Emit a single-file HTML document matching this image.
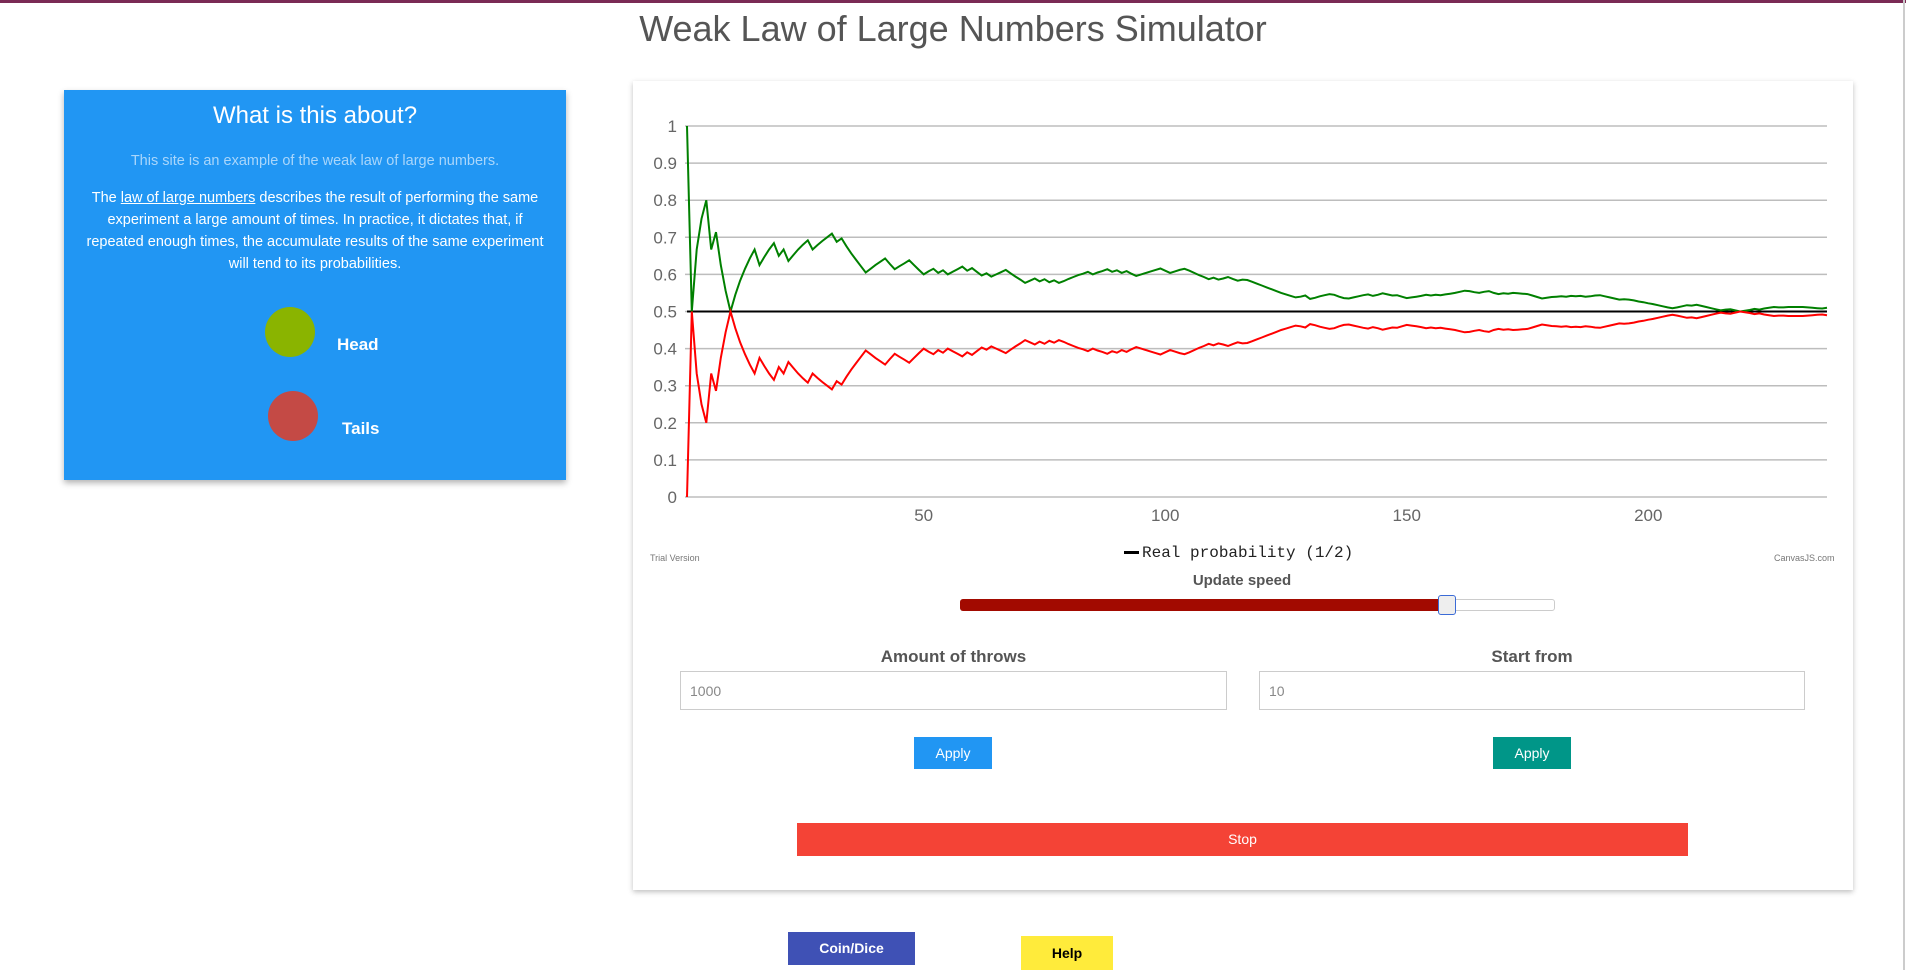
<!DOCTYPE html>
<html><head><meta charset="utf-8">
<style>
body{margin:0;width:1906px;height:970px;overflow:hidden;background:#fff;font-family:"Liberation Sans",sans-serif;position:relative}
.abs{position:absolute}
.topbar{left:0;top:0;width:1906px;height:3px;background:#7a2a55}
.title{left:0;width:1906px;top:8px;text-align:center;font-size:36px;color:#555}
.panel{left:64px;top:90px;width:502px;height:390px;background:#2196f3;box-shadow:0 3px 6px rgba(0,0,0,.3);color:#fff;text-align:center}
.card{left:633px;top:81px;width:1220px;height:809px;background:#fff;box-shadow:0 2px 5px rgba(0,0,0,.25)}
.btn{color:#fff;text-align:center;font-size:14px}
.inp{border:1px solid #ccc;background:#fff;color:#888;font-size:14px;box-sizing:border-box;padding-left:9px;line-height:38px}
.lbl{font-weight:bold;font-size:17px;color:#555;text-align:center}
</style></head><body>
<div class="abs topbar"></div>
<div class="abs title">Weak Law of Large Numbers Simulator</div>

<div class="abs panel">
  <div class="abs" style="left:0;width:502px;top:12px;font-size:24px">What is this about?</div>
  <div class="abs" style="left:0;width:502px;top:63px;font-size:14.5px;color:#a9d6fb">This site is an example of the weak law of large numbers.</div>
  <div class="abs" style="left:18px;width:466px;top:97px;font-size:14.5px;line-height:22px">The <u>law of large numbers</u> describes the result of performing the same experiment a large amount of times. In practice, it dictates that, if repeated enough times, the accumulate results of the same experiment will tend to its probabilities.</div>
  <div class="abs" style="left:201px;top:217px;width:50px;height:50px;border-radius:50%;background:#8ab400"></div>
  <div class="abs" style="left:273px;top:245px;font-size:17px;font-weight:bold">Head</div>
  <div class="abs" style="left:204px;top:301px;width:50px;height:50px;border-radius:50%;background:#c44a45"></div>
  <div class="abs" style="left:278px;top:329px;font-size:17px;font-weight:bold">Tails</div>
</div>

<div class="abs card"></div>
<svg class="abs" style="left:0;top:0" width="1906" height="970" id="chart"></svg>

<div class="abs" style="left:650px;top:553px;font-size:9px;color:#777">Trial Version</div>
<div class="abs" style="left:1774px;top:553px;font-size:9px;color:#777">CanvasJS.com</div>
<div class="abs" style="left:1124px;top:544px;font-family:'Liberation Mono',monospace;font-size:16px;color:#222;white-space:nowrap"><span style="display:inline-block;width:15px;height:3px;background:#000;vertical-align:middle;margin-right:3px"></span>Real probability (1/2)</div>

<div class="abs" style="left:0;width:2484px;top:572px;text-align:center;font-size:16px;font-weight:bold;color:#555;font-family:'DejaVu Sans',sans-serif;transform:scale(.5,1);transform-origin:0 0;display:none"></div>
<div class="abs" style="left:1142px;width:200px;top:572px;text-align:center;font-size:15px;font-weight:bold;color:#555">Update speed</div>
<div class="abs" style="left:960px;top:599px;width:593px;height:10px;border:1px solid #ccc;border-radius:3px;background:#fff"></div>
<div class="abs" style="left:960px;top:599px;width:488px;height:12px;border-radius:3px;background:#a20a00"></div>
<div class="abs" style="left:1438px;top:595px;width:16px;height:18px;border:1px solid #3b6bd6;border-radius:3px;background:#eee"></div>

<div class="abs lbl" style="left:680px;width:547px;top:647px">Amount of throws</div>
<div class="abs inp" style="left:680px;top:671px;width:547px;height:39px">1000</div>
<div class="abs lbl" style="left:1259px;width:546px;top:647px">Start from</div>
<div class="abs inp" style="left:1259px;top:671px;width:546px;height:39px">10</div>
<div class="abs btn" style="left:914px;top:737px;width:78px;height:32px;line-height:32px;background:#2196f3">Apply</div>
<div class="abs btn" style="left:1493px;top:737px;width:78px;height:32px;line-height:32px;background:#009688">Apply</div>
<div class="abs btn" style="left:797px;top:823px;width:891px;height:33px;line-height:33px;background:#f44336">Stop</div>
<div class="abs btn" style="left:788px;top:932px;width:127px;height:33px;line-height:33px;background:#3f51b5;font-weight:bold">Coin/Dice</div>
<div class="abs btn" style="left:1021px;top:936px;width:92px;height:34px;line-height:34px;background:#ffeb3b;color:#000;font-weight:bold">Help</div>
<div class="abs" style="left:1903px;top:0;width:2px;height:970px;background:#ccc"></div>

<script>
const headValues=[1,.5,.667,.75,.8,.667,.714,.625,.556,.5,
.545,.583,.615,.643,.667,.625,.647,.667,.684,.65,
.667,.636,.652,.667,.68,.692,.667,.679,.69,.7,
.71,.688,.697,.676,.657,.639,.622,.605,.615,.625,
.634,.643,.628,.614,.622,.63,.638,.625,.612,.6,
.608,.615,.604,.611,.6,.607,.614,.621,.61,.617,
.607,.597,.603,.594,.6,.606,.612,.603,.594,.586,
.577,.583,.589,.581,.587,.579,.584,.577,.582,.588,
.593,.598,.602,.607,.6,.605,.609,.614,.607,.611,
.604,.609,.602,.596,.6,.604,.608,.612,.616,.61,
.604,.608,.612,.615,.61,.604,.598,.593,.587,.591,
.586,.589,.593,.588,.583,.586,.585,.58,.575,.57,
.565,.56,.555,.55,.546,.542,.538,.54,.543,.534,
.537,.541,.544,.547,.545,.54,.536,.535,.538,.541,
.544,.546,.542,.545,.549,.546,.543,.544,.54,.536,
.538,.54,.542,.545,.543,.545,.544,.546,.548,.55,
.553,.556,.555,.552,.55,.553,.555,.55,.547,.549,
.548,.55,.549,.548,.547,.543,.539,.535,.537,.539,
.54,.541,.54,.542,.541,.542,.54,.541,.543,.544,
.541,.538,.535,.532,.533,.532,.53,.527,.525,.522,
.52,.517,.514,.511,.509,.511,.514,.517,.516,.518,
.515,.512,.509,.506,.503,.505,.506,.503,.5,.502,
.504,.507,.505,.508,.51,.512,.511,.511,.512,.512,
.512,.512,.511,.51,.509,.508,.51];
const tailsValues=headValues.map(v=>+(1-v).toFixed(3));
const realProbability=0.5;
const yTicks=[0,0.1,0.2,0.3,0.4,0.5,0.6,0.7,0.8,0.9,1];
const yTickLabels=["0","0.1","0.2","0.3","0.4","0.5","0.6","0.7","0.8","0.9","1"];
const xTicks=[50,100,150,200];

const svg=document.getElementById('chart');
const NS='http://www.w3.org/2000/svg';
const L=687,R=1827,T=126,B=497;
const xMin=1,xMax=headValues.length;
const xs=v=>L+(v-xMin)/(xMax-xMin)*(R-L);
const ys=v=>B-v*(B-T);
function mk(t,a){const e=document.createElementNS(NS,t);for(const k in a)e.setAttribute(k,a[k]);svg.appendChild(e);return e;}
yTicks.forEach((t,i)=>{
  const g=mk('line',{x1:L-2,x2:R,y1:ys(t),y2:ys(t),stroke:'#bdbdbd','stroke-width':1.5});
  
  
  const tx=mk('text',{x:L-10,y:ys(t)+6,'text-anchor':'end','font-size':17,fill:'#666','font-family':'Liberation Sans, sans-serif'});
  tx.textContent=yTickLabels[i];
  
  
});
xTicks.forEach(t=>{
  const tx=mk('text',{x:xs(t),y:B+24,'text-anchor':'middle','font-size':17,fill:'#666','font-family':'Liberation Sans, sans-serif'});
  tx.textContent=String(t);
  
  
});
const rl=mk('line',{x1:L,x2:R,y1:ys(realProbability),y2:ys(realProbability),stroke:'#000','stroke-width':2});


function series(vals,color,name){
  const p=mk('polyline',{points:vals.map((v,i)=>xs(i+1).toFixed(1)+','+ys(v).toFixed(1)).join(' '),fill:'none',stroke:color,'stroke-width':2,'stroke-linejoin':'miter'});
  
  
}
series(headValues,'#008000','head-series-line');
series(tailsValues,'#ff0000','tails-series-line');
</script>
</body></html>
